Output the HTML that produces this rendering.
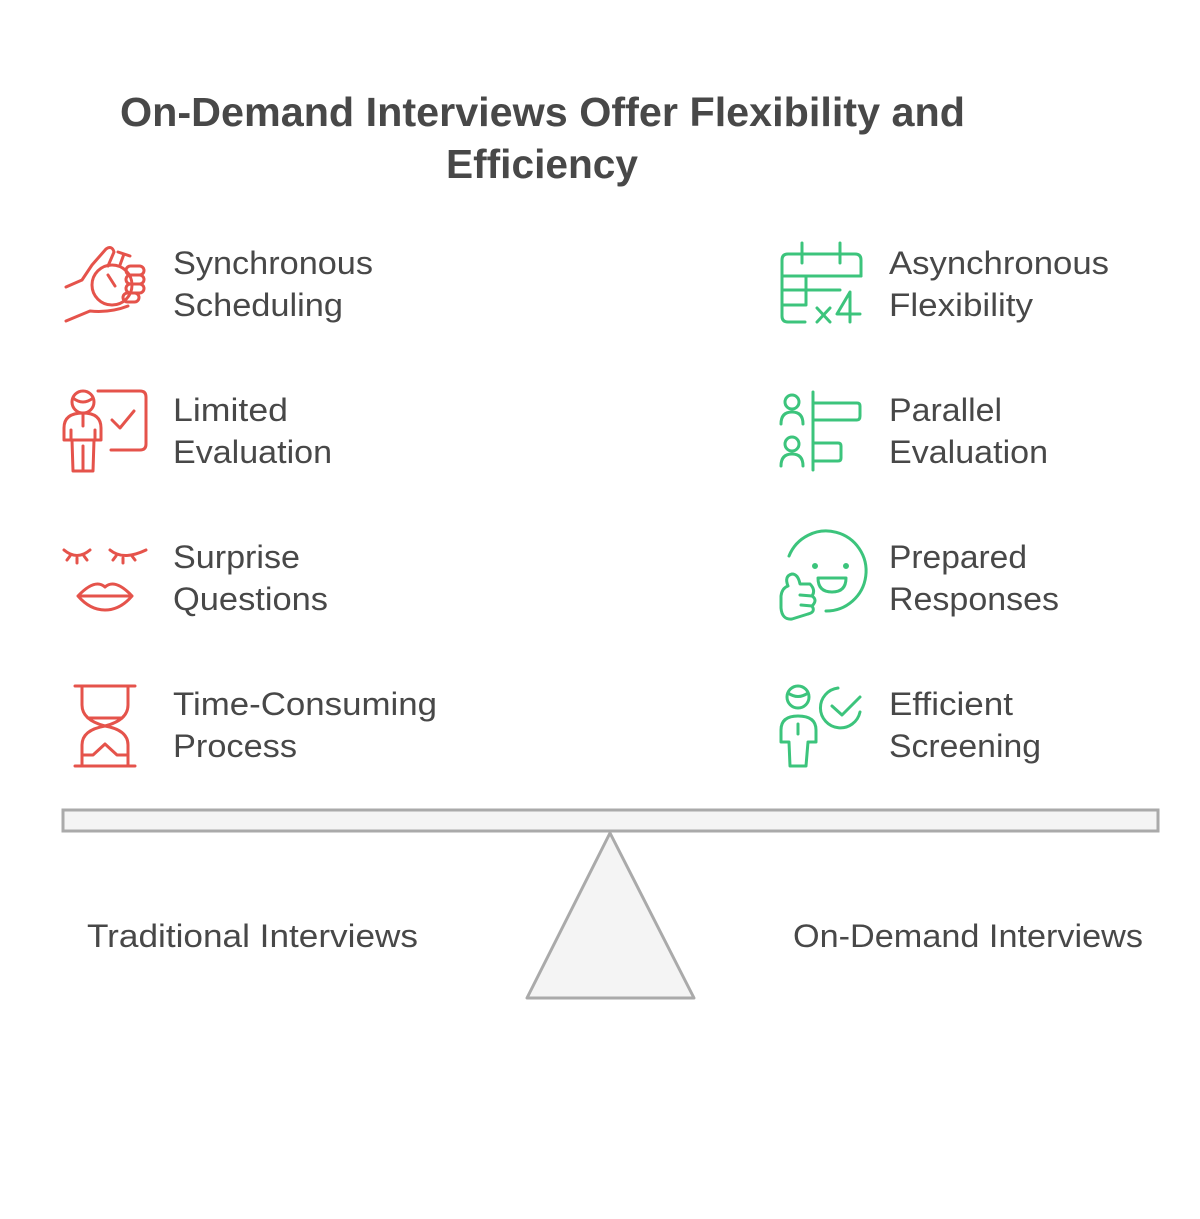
<!DOCTYPE html>
<html><head><meta charset="utf-8"><style>
html,body{margin:0;padding:0;background:#fff;}
svg{display:block;}
text{font-family:"Liberation Sans",sans-serif;fill:#484848;}
.l{font-size:32px;}
.t{font-size:41px;font-weight:bold;}
</style></head><body>
<svg width="1200" height="1219" viewBox="0 0 1200 1219" xmlns="http://www.w3.org/2000/svg">
<text class="t" x="120" y="126" textLength="845" lengthAdjust="spacingAndGlyphs">On-Demand Interviews Offer Flexibility and</text>
<text class="t" x="446" y="178" textLength="192" lengthAdjust="spacingAndGlyphs">Efficiency</text>

<g class="l">
<text class="l" x="173" y="274" textLength="200" lengthAdjust="spacingAndGlyphs">Synchronous</text>
<text class="l" x="173" y="316" textLength="170" lengthAdjust="spacingAndGlyphs">Scheduling</text>
<text class="l" x="173" y="421" textLength="115" lengthAdjust="spacingAndGlyphs">Limited</text>
<text class="l" x="173" y="463" textLength="159" lengthAdjust="spacingAndGlyphs">Evaluation</text>
<text class="l" x="173" y="568" textLength="127" lengthAdjust="spacingAndGlyphs">Surprise</text>
<text class="l" x="173" y="610" textLength="155" lengthAdjust="spacingAndGlyphs">Questions</text>
<text class="l" x="173" y="715" textLength="264" lengthAdjust="spacingAndGlyphs">Time-Consuming</text>
<text class="l" x="173" y="757" textLength="124" lengthAdjust="spacingAndGlyphs">Process</text>

<text class="l" x="889" y="274" textLength="220" lengthAdjust="spacingAndGlyphs">Asynchronous</text>
<text class="l" x="889" y="316" textLength="144" lengthAdjust="spacingAndGlyphs">Flexibility</text>
<text class="l" x="889" y="421" textLength="113" lengthAdjust="spacingAndGlyphs">Parallel</text>
<text class="l" x="889" y="463" textLength="159" lengthAdjust="spacingAndGlyphs">Evaluation</text>
<text class="l" x="889" y="568" textLength="138" lengthAdjust="spacingAndGlyphs">Prepared</text>
<text class="l" x="889" y="610" textLength="170" lengthAdjust="spacingAndGlyphs">Responses</text>
<text class="l" x="889" y="715" textLength="124" lengthAdjust="spacingAndGlyphs">Efficient</text>
<text class="l" x="889" y="757" textLength="152" lengthAdjust="spacingAndGlyphs">Screening</text>

<text class="l" x="87" y="947" textLength="331" lengthAdjust="spacingAndGlyphs">Traditional Interviews</text>
<text class="l" x="793" y="947" textLength="350" lengthAdjust="spacingAndGlyphs">On-Demand Interviews</text>
</g>

<rect x="63" y="810" width="1095" height="21" fill="#f4f4f4" stroke="#aaaaaa" stroke-width="3"/>
<polygon points="610,833 527,998 694,998" fill="#f4f4f4" stroke="#aaaaaa" stroke-width="3" stroke-linejoin="round"/>

<!-- red icons -->
<g fill="none" stroke="#E5534B" stroke-width="3" stroke-linecap="round" stroke-linejoin="round">
<!-- hand stopwatch -->
<path d="M66 287 L82 280 L92 265 L106 249 Q112 245 114 252 L108 266"/>
<path d="M66 321 L90 311 Q110 313 128 306"/>
<circle cx="112" cy="285" r="20"/>
<path d="M108 275 L115 286"/>
<path d="M120 265 L124 254 M118 252 L130 256"/>
<rect x="126" y="266" width="18" height="9" rx="4.5"/>
<rect x="126" y="275" width="18" height="9" rx="4.5"/>
<rect x="126" y="284" width="18" height="9" rx="4.5"/>
<rect x="123" y="293" width="16" height="9" rx="4.5"/>
<!-- teacher -->
<circle cx="83" cy="402" r="11"/>
<path d="M73 398 Q83 406 93 398"/>
<path d="M64 440 L64 428 Q64 413 83 413 Q101 413 101 428 L101 440 Z"/>
<path d="M83 413 L83 426 M71 430 L71 440 M95 430 L95 440"/>
<path d="M72 440 L73 471 L93 471 L94 440 M83 446 L83 471"/>
<path d="M98 391 L140 391 Q146 391 146 397 L146 444 Q146 450 140 450 L111 450"/>
<path d="M112 420 L120 428 L134 411"/>
<!-- eyes lips -->
<path d="M64 550 Q77 561 90 550 M70 556 L67 560 M77 558 L77 563 M84 556 L87 560"/>
<path d="M110 550 Q123 561 146 550 M116 556 L113 560 M123 558 L123 563 M132 556 L135 560"/>
<path d="M78 596 Q95 578 105 587 Q115 578 132 596 Q120 610 105 610 Q90 610 78 596 Z M78 596 L132 596"/>
<!-- hourglass -->
<path d="M75 686 L135 686 M75 766 L135 766"/>
<path d="M82 686 L82 705 Q82 720 105 726 Q128 720 128 705 L128 686"/>
<path d="M82 766 L82 745 Q82 730 105 726 Q128 730 128 745 L128 766"/>
<path d="M88 718 L122 718"/>
<path d="M82 755 L93 755 L105 744 L117 755 L128 755"/>
</g>

<!-- green icons -->
<g fill="none" stroke="#3CC47C" stroke-width="3" stroke-linecap="round" stroke-linejoin="round">
<!-- calendar x4 -->
<path d="M805 322 L788 322 Q782 322 782 316 L782 260 Q782 254 788 254 L855 254 Q861 254 861 260 L861 276"/>
<path d="M802 243 L802 263 M840 243 L840 263"/>
<path d="M782 276 L861 276 M782 290 L840 290 M782 305 L806 305 M806 276 L806 305"/>
<path d="M817 308 L830 322 M830 308 L817 322"/>
<path d="M850 322 L850 292 L837 314 L860 314"/>
<!-- parallel -->
<circle cx="792" cy="402" r="7"/>
<path d="M781 424 Q781 412 792 412 Q803 412 803 424"/>
<circle cx="792" cy="444" r="7"/>
<path d="M781 466 Q781 454 792 454 Q803 454 803 466"/>
<path d="M813 392 L813 470"/>
<path d="M813 403 L857 403 Q860 403 860 406 L860 416 Q860 420 857 420 L813 420"/>
<path d="M813 443 L838 443 Q841 443 841 446 L841 458 Q841 461 838 461 L813 461"/>
<!-- smiley thumbs -->
<path d="M789 556 A40 40 0 1 1 826 611"/>
<circle cx="815" cy="566" r="1.5" fill="#3CC47C"/>
<circle cx="846" cy="566" r="1.5" fill="#3CC47C"/>
<path d="M818 578 L846 578 Q846 592 832 592 Q818 592 818 578 Z"/>
<path d="M788 586 Q784 576 792 574 Q798 574 800 584 L810 584 Q816 590 812 596 Q818 600 812 606 Q816 612 808 614 L792 619 Q782 620 781 608 L781 596 Q782 588 788 586 Z"/>
<path d="M800 595 L812 596 M801 605 L812 606"/>
<!-- efficient screening -->
<circle cx="798" cy="697" r="11"/>
<path d="M788 693 Q798 700 808 693"/>
<path d="M781 742 L781 730 Q781 716 798 716 Q816 716 816 730 L816 742 L808 742 L806 766 L790 766 L789 742 Z"/>
<path d="M798 724 L798 734"/>
<path d="M838 688 A20 20 0 1 0 860 712"/>
<path d="M832 706 L842 715 L860 697"/>
</g>
</svg>
</body></html>
